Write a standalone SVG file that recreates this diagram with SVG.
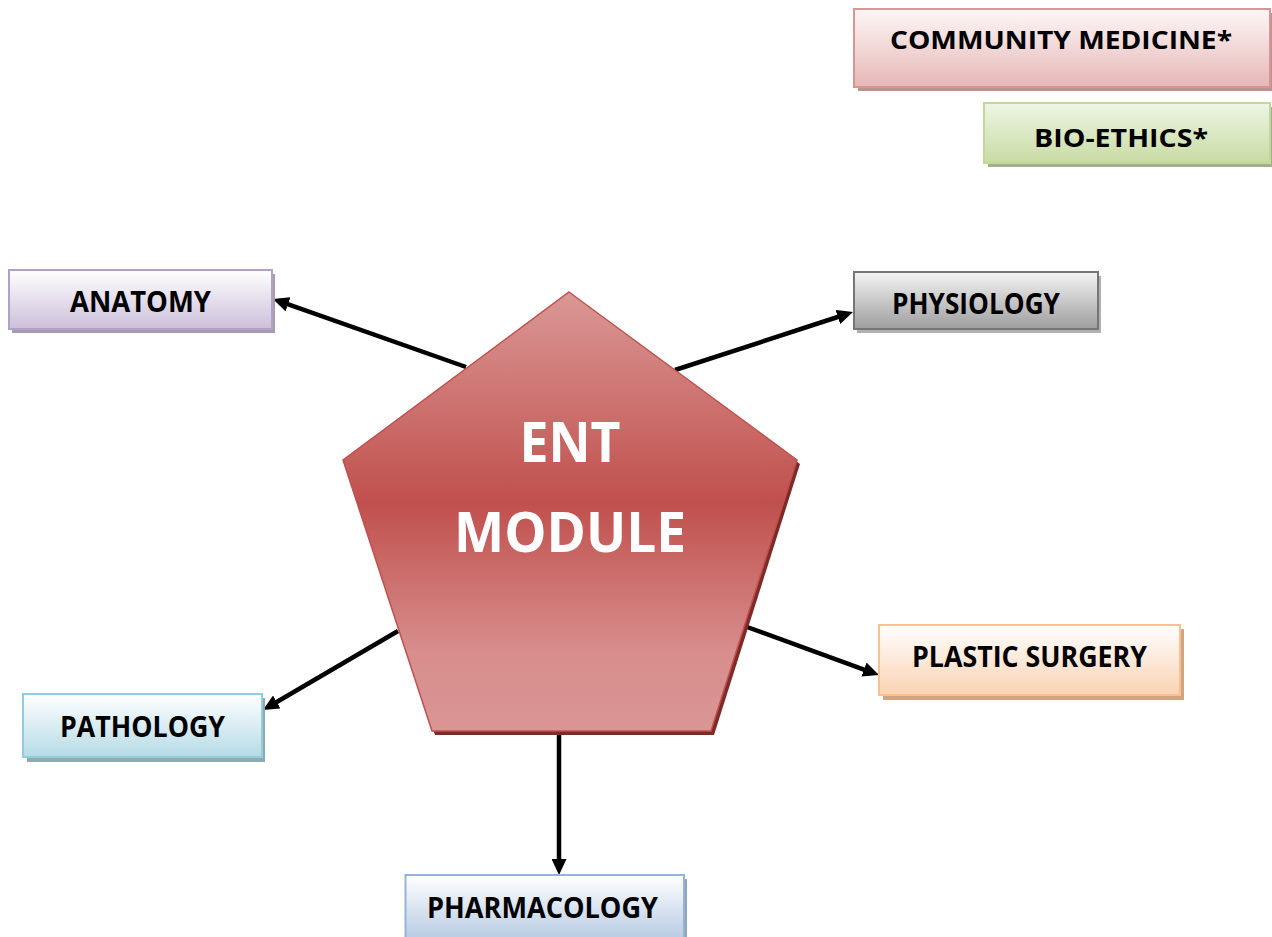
<svg xmlns="http://www.w3.org/2000/svg" width="1272" height="937" viewBox="0 0 1272 937">
<defs>
<linearGradient id="gPent" x1="0" y1="0" x2="0" y2="1">
<stop offset="0" stop-color="#da9896"/>
<stop offset="0.48" stop-color="#c0504d"/>
<stop offset="0.82" stop-color="#d78e8d"/>
<stop offset="1" stop-color="#da9594"/>
</linearGradient>
<linearGradient id="gCom" x1="0" y1="0" x2="0" y2="1"><stop offset="0" stop-color="#fdf7f7"/><stop offset="1" stop-color="#e6b7b6"/></linearGradient>
<linearGradient id="gBio" x1="0" y1="0" x2="0" y2="1"><stop offset="0" stop-color="#eff5e5"/><stop offset="1" stop-color="#c8dba3"/></linearGradient>
<linearGradient id="gAna" x1="0" y1="0" x2="0" y2="1"><stop offset="0" stop-color="#ffffff"/><stop offset="1" stop-color="#cbbfda"/></linearGradient>
<linearGradient id="gPhy" x1="0" y1="0" x2="0" y2="1"><stop offset="0" stop-color="#f4f4f4"/><stop offset="1" stop-color="#9e9e9e"/></linearGradient>
<linearGradient id="gPla" x1="0" y1="0" x2="0" y2="1"><stop offset="0" stop-color="#ffffff"/><stop offset="1" stop-color="#fad2b2"/></linearGradient>
<linearGradient id="gPat" x1="0" y1="0" x2="0" y2="1"><stop offset="0" stop-color="#ffffff"/><stop offset="1" stop-color="#b5dbe6"/></linearGradient>
<linearGradient id="gPha" x1="0" y1="0" x2="0" y2="1"><stop offset="0" stop-color="#ffffff"/><stop offset="1" stop-color="#b7cbe3"/></linearGradient>
<marker id="arr" markerUnits="userSpaceOnUse" viewBox="0 0 16 15" markerWidth="16" markerHeight="15" refX="8" refY="7.5" orient="auto">
<path d="M0,0 L16,7.5 L0,15 Z" fill="#000"/>
</marker>
</defs>
<style>
.lbl{font-family:"Open Sans","Lato","Liberation Sans",sans-serif;font-weight:bold;font-size:28px;fill:#000;text-anchor:middle}
.sm{font-size:25px}
.big{font-family:"Open Sans","Lato","Liberation Sans",sans-serif;font-weight:bold;font-size:56px;fill:#fff;text-anchor:middle}
.box{stroke-width:2}
.conn{stroke:#000;stroke-width:4.5;fill:none;marker-end:url(#arr)}
</style>
<rect width="1272" height="937" fill="#fff"/>

<g id="connectors">
<line class="conn" x1="466" y1="367" x2="280.5" y2="301.7"/>
<line class="conn" x1="675" y1="370" x2="845.4" y2="314.5"/>
<line class="conn" x1="559" y1="733" x2="559" y2="867"/>
<line class="conn" x1="398" y1="631" x2="269.9" y2="706"/>
<line class="conn" x1="747" y1="627" x2="871.5" y2="672.3"/>
</g>

<g id="ent-module">
<polygon points="572,296 800,464 714,735 435,735 346,464" fill="#7d2a28"/>
<polygon points="569,292 797,460 711,731 432,731 343,460" fill="url(#gPent)" stroke="#c0504d" stroke-width="1.5"/>
<text class="big" x="570" y="462" textLength="101" lengthAdjust="spacingAndGlyphs">ENT</text>
<text class="big" x="570" y="552" textLength="232" lengthAdjust="spacingAndGlyphs">MODULE</text>
</g>

<g id="community-medicine">
<rect x="858" y="13" width="416" height="78" fill="#b89392"/>
<rect class="box" x="854" y="9" width="416" height="78" fill="url(#gCom)" stroke="#d99594"/>
<text class="lbl sm" x="1061" y="49" textLength="342" lengthAdjust="spacingAndGlyphs">COMMUNITY MEDICINE*</text>
</g>

<g id="bio-ethics">
<rect x="988" y="107" width="286" height="60" fill="#a4ae8c"/>
<rect class="box" x="984" y="103" width="286" height="60" fill="url(#gBio)" stroke="#c3d69b"/>
<text class="lbl sm" x="1121" y="146.5" textLength="174" lengthAdjust="spacingAndGlyphs">BIO-ETHICS*</text>
</g>

<g id="anatomy">
<rect x="12" y="274" width="263" height="59" fill="#a69daf"/>
<rect class="box" x="9" y="270" width="263" height="59" fill="url(#gAna)" stroke="#b2a1c7"/>
<text class="lbl" x="140.5" y="312" textLength="141" lengthAdjust="spacingAndGlyphs">ANATOMY</text>
</g>

<g id="physiology">
<rect x="857" y="276" width="244" height="57" fill="#b0b0b0"/>
<rect class="box" x="854" y="272" width="244" height="57" fill="url(#gPhy)" stroke="#767676"/>
<text class="lbl" x="976" y="313.5" textLength="168" lengthAdjust="spacingAndGlyphs">PHYSIOLOGY</text>
</g>

<g id="plastic-surgery">
<rect x="883" y="629" width="301" height="71" fill="#cfa584"/>
<rect class="box" x="879" y="625" width="301" height="70" fill="url(#gPla)" stroke="#fac08f"/>
<text class="lbl" x="1029.5" y="667" textLength="235" lengthAdjust="spacingAndGlyphs">PLASTIC SURGERY</text>
</g>

<g id="pathology">
<rect x="27" y="698" width="238" height="64" fill="#8eabb3"/>
<rect class="box" x="23" y="694" width="239" height="63" fill="url(#gPat)" stroke="#92cddc"/>
<text class="lbl" x="142.5" y="737" textLength="165" lengthAdjust="spacingAndGlyphs">PATHOLOGY</text>
</g>

<g id="pharmacology">
<rect x="409" y="879" width="278" height="62" fill="#93a5bc"/>
<rect class="box" x="405.5" y="875" width="278.5" height="64" fill="url(#gPha)" stroke="#95b3d7"/>
<text class="lbl" x="542.5" y="918" textLength="231" lengthAdjust="spacingAndGlyphs">PHARMACOLOGY</text>
</g>
</svg>
